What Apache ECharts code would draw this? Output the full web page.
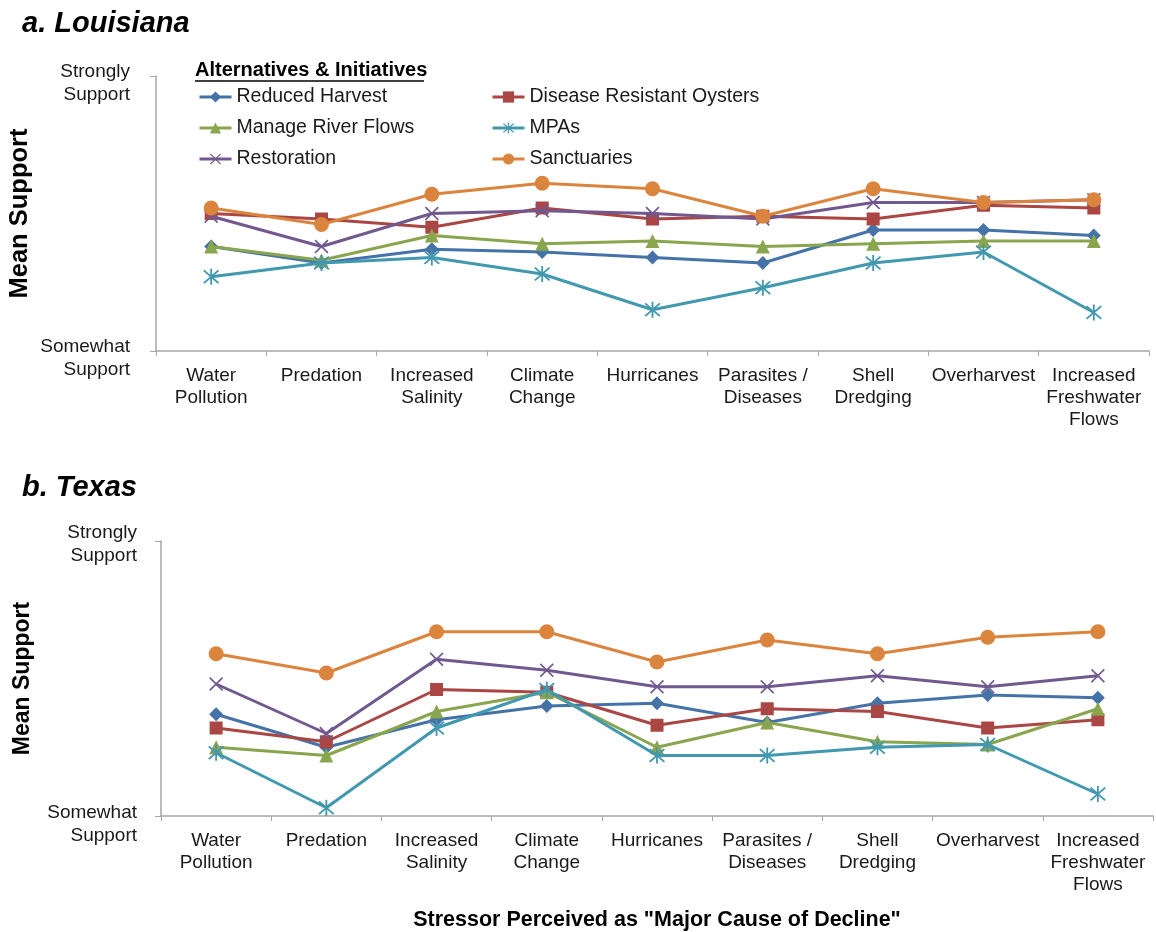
<!DOCTYPE html>
<html>
<head>
<meta charset="utf-8">
<script src="https://cdn.jsdelivr.net/npm/echarts@6/dist/echarts.min.js"></script>
<style>
    html, body { margin: 0; padding: 0; background: #fff; }
    #main { width: 1156px; height: 932px; }
</style>
</head>
<body>
<div id="main"></div>
<script>
// stressors on the x axis (same for both states)
var stressors = ['Water\nPollution', 'Predation', 'Increased\nSalinity', 'Climate\nChange', 'Hurricanes',
    'Parasites /\nDiseases', 'Shell\nDredging', 'Overharvest', 'Increased\nFreshwater\nFlows'];
var seriesNames = ['Reduced Harvest', 'Disease Resistant Oysters', 'Manage River Flows', 'MPAs', 'Restoration', 'Sanctuaries'];
// 4 = Somewhat Support, 5 = Strongly Support
var supportTicks = {4: ['Somewhat', 'Support'], 5: ['Strongly', 'Support']};

// a. Louisiana
var laReducedHarvest = [4.38, 4.32, 4.37, 4.36, 4.34, 4.32, 4.44, 4.44, 4.42];
var laDiseaseResistant = [4.50, 4.48, 4.45, 4.52, 4.48, 4.49, 4.48, 4.53, 4.52];
var laManageRiver = [4.38, 4.33, 4.42, 4.39, 4.40, 4.38, 4.39, 4.40, 4.40];
var laMPAs = [4.27, 4.32, 4.34, 4.28, 4.15, 4.23, 4.32, 4.36, 4.14];
var laRestoration = [4.49, 4.38, 4.50, 4.51, 4.50, 4.48, 4.54, 4.54, 4.55];
var laSanctuaries = [4.52, 4.46, 4.57, 4.61, 4.59, 4.49, 4.59, 4.54, 4.55];

// b. Texas
var txReducedHarvest = [4.37, 4.25, 4.35, 4.40, 4.41, 4.34, 4.41, 4.44, 4.43];
var txDiseaseResistant = [4.32, 4.27, 4.46, 4.45, 4.33, 4.39, 4.38, 4.32, 4.35];
var txManageRiver = [4.25, 4.22, 4.38, 4.45, 4.25, 4.34, 4.27, 4.26, 4.39];
var txMPAs = [4.23, 4.03, 4.32, 4.46, 4.22, 4.22, 4.25, 4.26, 4.08];
var txRestoration = [4.48, 4.30, 4.57, 4.53, 4.47, 4.47, 4.51, 4.47, 4.51];
var txSanctuaries = [4.59, 4.52, 4.67, 4.67, 4.56, 4.64, 4.59, 4.65, 4.67];

var colors = ['#4572A7', '#AA4643', '#89A54E', '#4198AF', '#71588F', '#DB843D'];
// asterisk = vertical bar + two diagonals, cross = two diagonals
var starPath = 'path://M-1,-10L1,-10L1,10L-1,10Z M-7.3,-8.7L8.7,7.3L7.3,8.7L-8.7,-7.3Z M8.7,-7.3L-7.3,8.7L-8.7,7.3L7.3,-8.7Z';
var crossPath = 'path://M-7.3,-8.7L8.7,7.3L7.3,8.7L-8.7,-7.3Z M8.7,-7.3L-7.3,8.7L-8.7,7.3L7.3,-8.7Z';
var symbols = ['diamond', 'rect', 'triangle', starPath, crossPath, 'circle'];
var symbolSizes = [14, 13, 14, 16, 14, 15];

var axisGray = '#a6a6a6';
var textColor = '#1a1a1a';

var myChart = echarts.init(document.getElementById('main'));

function makeXAxis(gridIndex, withName) {
    var axis = {
        type: 'category',
        gridIndex: gridIndex,
        data: stressors,
        boundaryGap: true,
        axisLine: {lineStyle: {color: axisGray, width: 1.5}},
        axisTick: {show: true, length: 5, lineStyle: {color: axisGray}},
        axisLabel: {interval: 0, color: textColor, fontSize: 19, fontFamily: 'Liberation Sans', lineHeight: 22, margin: 14, align: 'center'}
    };
    if (withName) {
        axis.name = 'Stressor Perceived as "Major Cause of Decline"';
        axis.nameLocation = 'middle';
        axis.nameGap = 93;
        axis.nameMoveOverlap = false;
        axis.nameTextStyle = {fontSize: 21.5, fontWeight: 'bold', color: '#000', fontFamily: 'Liberation Sans'};
    }
    return axis;
}

/**
 * y axis with the two-line support labels
 * shift{4: px, 5: px} moves a label down below its tick (empty rich line on top)
 */
function makeYAxis(gridIndex, nameGap, nameSize, margin, shift) {
    return {
        type: 'value',
        gridIndex: gridIndex,
        min: 4,
        max: 5,
        interval: 1,
        splitLine: {show: false},
        axisLine: {show: true, lineStyle: {color: axisGray, width: 1.5}},
        axisTick: {show: true, length: 6, lineStyle: {color: axisGray}},
        axisLabel: {
            color: textColor, fontSize: 19, fontFamily: 'Liberation Sans', margin: margin,
            formatter: function (v) {
                var lines = supportTicks[v];
                if (!lines) return '';
                return '{g' + v + '| }\n{t|' + lines[0] + '}\n{t|' + lines[1] + '}';
            },
            rich: {
                g4: {lineHeight: shift[4] * 2, fontSize: 2},
                g5: {lineHeight: shift[5] * 2, fontSize: 2},
                t: {lineHeight: 23, fontSize: 19, color: textColor, fontFamily: 'Liberation Sans', align: 'right'}
            }
        },
        name: 'Mean Support',
        nameLocation: 'middle',
        nameRotate: 90,
        nameGap: nameGap,
        nameMoveOverlap: false,
        nameTextStyle: {fontSize: nameSize, fontWeight: 'bold', color: '#000', fontFamily: 'Liberation Sans'}
    };
}

function makeSeries(gridIndex, lists) {
    var out = [];
    for (var i = 0; i < lists.length; i++) {
        out.push({
            name: seriesNames[i],
            type: 'line',
            xAxisIndex: gridIndex,
            yAxisIndex: gridIndex,
            data: lists[i],
            symbol: symbols[i],
            symbolSize: symbolSizes[i],
            showAllSymbol: true,
            lineStyle: {width: 3, color: colors[i]},
            itemStyle: {color: colors[i]},
            emphasis: {disabled: true},
            z: 2 + i
        });
    }
    return out;
}

function makeLegend(left, names) {
    return {
        orient: 'vertical', left: left, top: 87, padding: 0, itemGap: 11,
        itemWidth: 32, itemHeight: 14, selectedMode: false,
        lineStyle: {width: 3},
        textStyle: {fontSize: 19.5, color: textColor, fontFamily: 'Liberation Sans'},
        data: names
    };
}

var option = {
    animation: false,
    color: colors,
    grid: [
        {left: 156, top: 76, width: 993, height: 275, outerBoundsMode: 'none'},
        {left: 161, top: 541, width: 992, height: 275, outerBoundsMode: 'none'}
    ],
    legend: [
        makeLegend(198, ['Reduced Harvest', 'Manage River Flows', 'Restoration']),
        makeLegend(491, ['Disease Resistant Oysters', 'MPAs', 'Sanctuaries'])
    ],
    graphic: [
        {type: 'text', left: 22, top: 9, style: {text: 'a. Louisiana', font: 'italic bold 29px "Liberation Sans"', fill: '#000'}},
        {type: 'text', left: 22, top: 473, style: {text: 'b. Texas', font: 'italic bold 29px "Liberation Sans"', fill: '#000'}},
        {type: 'text', left: 195, top: 60, style: {text: 'Alternatives & Initiatives', font: 'bold 20px "Liberation Sans"', fill: '#000'}},
        {type: 'line', shape: {x1: 195, y1: 81, x2: 424, y2: 81}, style: {stroke: '#000', lineWidth: 1.5}}
    ],
    xAxis: [makeXAxis(0, false), makeXAxis(1, true)],
    yAxis: [makeYAxis(0, 123, 25.5, 26, {4: 7, 5: 7}), makeYAxis(1, 127, 23, 24, {4: 8, 5: 3})],
    series: makeSeries(0, [laReducedHarvest, laDiseaseResistant, laManageRiver, laMPAs, laRestoration, laSanctuaries])
        .concat(makeSeries(1, [txReducedHarvest, txDiseaseResistant, txManageRiver, txMPAs, txRestoration, txSanctuaries]))
};

myChart.setOption(option);
</script>
</body>
</html>
